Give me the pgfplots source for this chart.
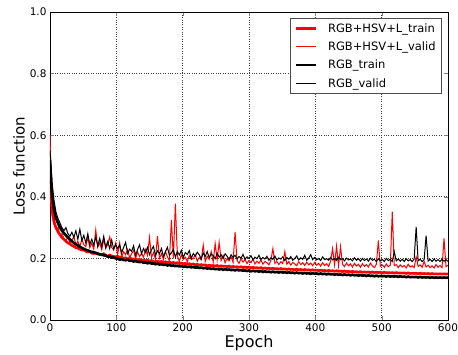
\documentclass[border=0pt]{standalone}
\usepackage{fontspec}
\setmainfont{DejaVu Sans}
\usepackage{pgfplots}
\usepackage{pgfplotstable}
\pgfplotsset{compat=1.18}
\pgfplotstableread{
e tH vH tR vR
0 0.45 0.60 0.52 0.55
3 0.36 0.34 0.40 0.45
6 0.32 0.31 0.36 0.39
9 0.30 0.295 0.33 0.35
12 0.287 0.30 0.315 0.33
15 0.277 0.275 0.30 0.315
18 0.268 0.28 0.29 0.30
21 0.262 0.265 0.282 0.29
24 0.256 0.258 0.275 0.30
27 0.25 0.27 0.268 0.28
30 0.247 0.25 0.262 0.272
33 0.242 0.26 0.256 0.285
36 0.239 0.27 0.25 0.268
39 0.235 0.245 0.246 0.29
42 0.233 0.255 0.242 0.262
45 0.23 0.238 0.238 0.295
48 0.227 0.262 0.234 0.258
51 0.227 0.245 0.231 0.275
54 0.223 0.238 0.228 0.25
57 0.221 0.268 0.226 0.28
60 0.222 0.235 0.223 0.245
63 0.217 0.25 0.221 0.262
66 0.216 0.23 0.22 0.243
69 0.218 0.292 0.217 0.27
72 0.214 0.236 0.216 0.24
75 0.213 0.25 0.213 0.265
78 0.211 0.228 0.213 0.238
81 0.215 0.262 0.21 0.272
84 0.21 0.232 0.209 0.236
87 0.207 0.245 0.206 0.255
90 0.211 0.27 0.206 0.232
93 0.208 0.235 0.203 0.26
96 0.206 0.228 0.203 0.23
99 0.205 0.25 0.2 0.245
102 0.207 0.213 0.199 0.232
105 0.203 0.25 0.196 0.244
108 0.204 0.205 0.197 0.218
111 0.2 0.222 0.195 0.236
114 0.202 0.212 0.194 0.252
117 0.198 0.229 0.196 0.216
120 0.201 0.202 0.192 0.23
123 0.199 0.215 0.193 0.223
126 0.196 0.226 0.19 0.241
129 0.198 0.199 0.191 0.21
132 0.195 0.221 0.189 0.229
135 0.197 0.206 0.188 0.244
138 0.193 0.216 0.189 0.215
141 0.195 0.204 0.186 0.232
144 0.192 0.229 0.187 0.219
147 0.194 0.21 0.184 0.236
150 0.191 0.268 0.186 0.212
153 0.193 0.203 0.183 0.228
156 0.19 0.219 0.184 0.239
159 0.189 0.198 0.181 0.209
162 0.191 0.272 0.183 0.225
165 0.188 0.2 0.18 0.215
168 0.19 0.215 0.181 0.232
171 0.187 0.196 0.179 0.206
174 0.189 0.223 0.18 0.221
177 0.186 0.205 0.177 0.236
180 0.188 0.192 0.179 0.21
183 0.185 0.325 0.176 0.218
186 0.187 0.2 0.177 0.229
189 0.184 0.378 0.175 0.204
192 0.186 0.208 0.176 0.222
195 0.183 0.19 0.174 0.211
198 0.185 0.212 0.175 0.226
201 0.182 0.197 0.173 0.203
204 0.184 0.204 0.174 0.219
207 0.181 0.189 0.172 0.213
210 0.183 0.209 0.173 0.225
213 0.18 0.196 0.171 0.2
216 0.182 0.2 0.172 0.216
219 0.179 0.212 0.17 0.207
222 0.181 0.191 0.171 0.22
225 0.178 0.203 0.169 0.212
228 0.18 0.195 0.17 0.198
231 0.178 0.243 0.168 0.218
234 0.179 0.19 0.169 0.206
237 0.176 0.207 0.167 0.222
240 0.178 0.197 0.168 0.203
243 0.176 0.222 0.166 0.214
246 0.177 0.188 0.167 0.209
249 0.175 0.248 0.165 0.199
252 0.177 0.196 0.166 0.217
255 0.174 0.252 0.164 0.204
258 0.176 0.193 0.166 0.212
261 0.174 0.21 0.163 0.2
264 0.175 0.186 0.165 0.215
267 0.173 0.2 0.163 0.207
270 0.175 0.192 0.164 0.197
273 0.172 0.205 0.162 0.212
276 0.174 0.187 0.163 0.203
279 0.172 0.285 0.161 0.21
282 0.173 0.194 0.163 0.198
285 0.171 0.184 0.161 0.206
288 0.173 0.199 0.162 0.201
291 0.17 0.188 0.16 0.213
294 0.172 0.196 0.161 0.197
297 0.17 0.183 0.159 0.205
300 0.172 0.194 0.161 0.2
303 0.169 0.186 0.158 0.209
306 0.171 0.198 0.16 0.195
309 0.169 0.182 0.158 0.204
312 0.17 0.191 0.159 0.199
315 0.168 0.184 0.157 0.21
318 0.17 0.195 0.159 0.196
321 0.167 0.181 0.156 0.203
324 0.169 0.19 0.158 0.198
327 0.167 0.186 0.156 0.207
330 0.168 0.179 0.157 0.194
333 0.166 0.193 0.155 0.202
336 0.168 0.232 0.157 0.197
339 0.166 0.184 0.155 0.208
342 0.167 0.19 0.156 0.195
345 0.165 0.18 0.154 0.201
348 0.167 0.189 0.156 0.198
351 0.165 0.183 0.154 0.205
354 0.166 0.222 0.155 0.193
357 0.164 0.181 0.153 0.203
360 0.166 0.19 0.155 0.197
363 0.164 0.178 0.153 0.206
366 0.165 0.187 0.154 0.194
369 0.163 0.182 0.152 0.2
372 0.165 0.176 0.154 0.208
375 0.163 0.189 0.152 0.195
378 0.164 0.18 0.153 0.202
381 0.162 0.186 0.151 0.197
384 0.164 0.177 0.153 0.21
387 0.162 0.188 0.151 0.194
390 0.163 0.179 0.152 0.201
393 0.161 0.185 0.15 0.212
396 0.163 0.176 0.152 0.196
399 0.161 0.187 0.15 0.203
402 0.162 0.178 0.151 0.195
405 0.16 0.184 0.149 0.2
408 0.162 0.175 0.151 0.193
411 0.16 0.186 0.149 0.205
414 0.161 0.177 0.15 0.196
417 0.159 0.183 0.148 0.199
420 0.161 0.174 0.15 0.194
423 0.159 0.19 0.148 0.203
426 0.16 0.232 0.149 0.195
429 0.158 0.179 0.147 0.2
432 0.16 0.24 0.149 0.193
435 0.158 0.176 0.147 0.204
438 0.159 0.238 0.148 0.196
441 0.157 0.181 0.146 0.199
444 0.159 0.173 0.148 0.192
447 0.157 0.185 0.146 0.201
450 0.158 0.176 0.147 0.195
453 0.156 0.182 0.145 0.198
456 0.158 0.172 0.147 0.192
459 0.156 0.184 0.145 0.202
462 0.157 0.175 0.146 0.194
465 0.155 0.181 0.144 0.199
468 0.157 0.171 0.146 0.191
471 0.155 0.183 0.144 0.2
474 0.156 0.174 0.145 0.193
477 0.155 0.18 0.143 0.198
480 0.156 0.172 0.145 0.191
483 0.154 0.185 0.143 0.201
486 0.156 0.176 0.144 0.194
489 0.154 0.17 0.142 0.197
492 0.155 0.181 0.144 0.19
495 0.154 0.258 0.142 0.199
498 0.155 0.174 0.143 0.192
501 0.153 0.179 0.142 0.197
504 0.155 0.171 0.143 0.19
507 0.153 0.182 0.141 0.2
510 0.154 0.173 0.143 0.193
513 0.153 0.178 0.141 0.197
516 0.154 0.352 0.142 0.19
519 0.152 0.176 0.141 0.222
522 0.154 0.18 0.142 0.192
525 0.152 0.17 0.14 0.198
528 0.153 0.179 0.142 0.191
531 0.152 0.172 0.14 0.197
534 0.153 0.177 0.141 0.19
537 0.151 0.169 0.139 0.199
540 0.153 0.181 0.141 0.192
543 0.151 0.172 0.139 0.196
546 0.152 0.176 0.14 0.19
549 0.151 0.17 0.139 0.198
552 0.152 0.205 0.14 0.302
555 0.15 0.174 0.138 0.192
558 0.152 0.179 0.14 0.197
561 0.15 0.171 0.138 0.19
564 0.151 0.19 0.139 0.196
567 0.15 0.172 0.138 0.274
570 0.151 0.178 0.139 0.191
573 0.149 0.17 0.137 0.197
576 0.151 0.176 0.139 0.19
579 0.149 0.169 0.137 0.198
582 0.15 0.18 0.138 0.191
585 0.149 0.171 0.137 0.196
588 0.15 0.177 0.138 0.19
591 0.149 0.17 0.137 0.197
594 0.15 0.265 0.138 0.191
597 0.149 0.173 0.137 0.196
600 0.15 0.178 0.138 0.19
}\loss
\begin{document}
\begin{tikzpicture}
\begin{axis}[
  width=398pt, height=308pt, scale only axis,
  xmin=0, xmax=600, ymin=0, ymax=1,
  xtick={0,100,...,600},
  ytick={0,0.2,0.4,0.6,0.8,1.0},
  yticklabel style={/pgf/number format/.cd, fixed, fixed zerofill, precision=1},
  /pgf/number format/assume math mode=true,
  tick label style={font=\fontsize{10.5}{12}\selectfont},
  tick align=inside,
  major tick length=4pt,
  grid=major,
  major grid style={dotted, black!75, line width=0.6pt},
  axis line style={line width=0.8pt},
  xlabel={Epoch}, ylabel={Loss function},
  xlabel style={font=\fontsize{16}{18}\selectfont, yshift=3pt},
  ylabel style={font=\fontsize{15}{17}\selectfont, yshift=-2pt},
  legend style={at={(0.985,0.98)}, anchor=north east, draw=black!70, line width=0.8pt,
    font=\fontsize{11.5}{13}\selectfont, row sep=4pt, inner xsep=4pt, inner ysep=3pt,
    /tikz/every odd column/.append style={column sep=9pt}},
  legend cell align=left,
  legend image code/.code={\draw[#1] (0pt,0pt) -- (20pt,0pt);},
]
\addplot[draw=red, line width=2.6pt] table[x=e, y=tH] {\loss};
\addlegendentry{RGB+HSV+L\_train}
\addplot[draw=red, line width=1pt] table[x=e, y=vH] {\loss};
\addlegendentry{RGB+HSV+L\_valid}
\addplot[draw=black, line width=2.6pt] table[x=e, y=tR] {\loss};
\addlegendentry{RGB\_train}
\addplot[draw=black, line width=1pt] table[x=e, y=vR] {\loss};
\addlegendentry{RGB\_valid}
\end{axis}
\pgfresetboundingbox
\path[use as bounding box] (-50pt,-35pt) rectangle (408pt,320pt);
\end{tikzpicture}
\end{document}
